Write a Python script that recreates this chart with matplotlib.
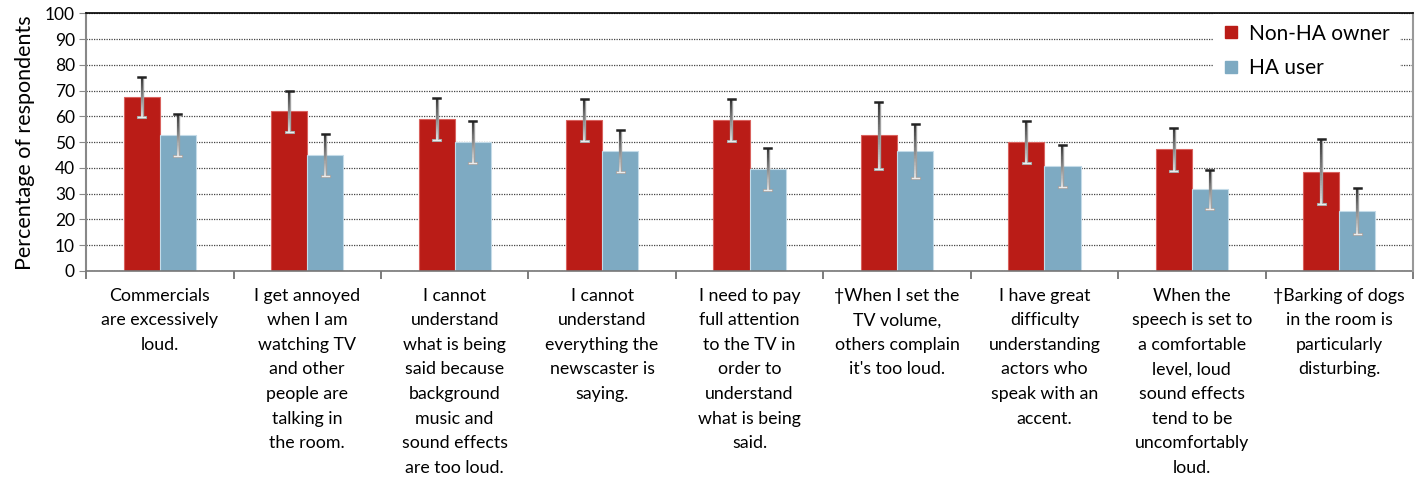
import numpy as np
import matplotlib.pyplot as plt
from matplotlib.collections import LineCollection
from matplotlib.lines import Line2D

plt.rcParams['font.family'] = ['Lato', 'DejaVu Sans']

labels = [
    'Commercials\nare excessively\nloud.',
    'I get annoyed\nwhen I am\nwatching TV\nand other\npeople are\ntalking in\nthe room.',
    'I cannot\nunderstand\nwhat is being\nsaid because\nbackground\nmusic and\nsound effects\nare too loud.',
    'I cannot\nunderstand\neverything the\nnewscaster is\nsaying.',
    'I need to pay\nfull attention\nto the TV in\norder to\nunderstand\nwhat is being\nsaid.',
    '\u2020When I set the\nTV volume,\nothers complain\nit\'s too loud.',
    'I have great\ndifficulty\nunderstanding\nactors who\nspeak with an\naccent.',
    'When the\nspeech is set to\na comfortable\nlevel, loud\nsound effects\ntend to be\nuncomfortably\nloud.',
    '\u2020Barking of dogs\nin the room is\nparticularly\ndisturbing.',
]
non_ha = [67.5, 62.0, 59.1, 58.5, 58.5, 52.7, 50.1, 47.2, 38.6]
non_ha_err = [7.8, 8.0, 8.1, 8.1, 8.1, 13.0, 8.2, 8.3, 12.7]
ha = [52.8, 45.0, 50.2, 46.6, 39.6, 46.6, 40.8, 31.7, 23.3]
ha_err = [8.2, 8.2, 8.2, 8.2, 8.1, 10.6, 8.2, 7.6, 9.0]

RED = '#ba1c17'
BLUE = '#7eaac2'

fig = plt.figure(figsize=(14.25, 4.82), dpi=100)
ax = fig.add_axes([0.0604, 0.4378, 0.9312, 0.5342])

x = np.arange(len(labels))
w = 0.245
ax.bar(x - w / 2, non_ha, w, color=RED, edgecolor='#d9625e', linewidth=0.8, zorder=2)
ax.bar(x + w / 2, ha, w, color=BLUE, edgecolor='#c4dbe8', linewidth=0.8, zorder=2)


def grad_errbar(xc, v, e):
    # error bar shaded from dark at the top to near white at the bottom
    lo, hi = v - e, v + e
    n = 40
    ys = np.linspace(hi, lo, n + 1)
    segs = [[(xc, ys[k]), (xc, ys[k + 1])] for k in range(n)]
    t = np.linspace(0, 1, n)
    cols = [(0.12 + 0.8 * s, 0.12 + 0.8 * s, 0.12 + 0.8 * s) for s in t]
    cw = 0.024
    ax.plot([xc, xc], [lo, hi], color='#a0a0a0', lw=2.4, zorder=3, solid_capstyle='butt')
    ax.plot([xc - cw, xc + cw], [lo, lo], color='#a0a0a0', lw=2.2, zorder=3)
    ax.add_collection(LineCollection(segs, colors=cols, linewidths=1.2, zorder=4))
    ax.plot([xc - cw, xc + cw], [hi, hi], color='#222222', lw=1.8, zorder=4)
    ax.plot([xc - cw, xc + cw], [lo, lo], color='#ececec', lw=1.0, zorder=4)


for i in range(len(labels)):
    grad_errbar(x[i] - w / 2, non_ha[i], non_ha_err[i])
    grad_errbar(x[i] + w / 2, ha[i], ha_err[i])

ax.set_xlim(-0.5, len(labels) - 0.5)
ax.set_ylim(0, 100)
ax.set_yticks(np.arange(0, 101, 10))
ax.tick_params(axis='y', labelsize=12.5, length=5, color='#888888', pad=3)
ax.yaxis.grid(True, linestyle=(0, (1, 1)), color='#444444', linewidth=0.9, zorder=0)
ax.set_axisbelow(True)

ax.set_xticks(np.arange(-0.5, len(labels)), [])
ax.tick_params(axis='x', which='major', direction='out', length=6, color='#666666', width=1.2)
ax.set_xticks(x, labels, minor=True)
ax.tick_params(axis='x', which='minor', length=0, pad=12, labelsize=12.8)
for lab in ax.get_xticklabels(minor=True):
    lab.set_linespacing(1.66)

ax.spines['top'].set_color('black')
ax.spines['top'].set_linewidth(1.2)
ax.spines['top'].set_zorder(6)
ax.spines['left'].set_color('#888888')
ax.spines['left'].set_linewidth(1.5)
ax.spines['right'].set_color('#999999')
ax.spines['right'].set_linewidth(1.5)
ax.spines['right'].set_zorder(6)
ax.spines['bottom'].set_color('#777777')
ax.spines['bottom'].set_linewidth(1.2)

ax.set_ylabel('Percentage of respondents', fontsize=15.5, labelpad=7)

handles = [
    Line2D([], [], marker='s', linestyle='none', markersize=9, markerfacecolor=RED, markeredgecolor=RED),
    Line2D([], [], marker='s', linestyle='none', markersize=9, markerfacecolor=BLUE, markeredgecolor=BLUE),
]
leg = ax.legend(handles, ['Non-HA owner', 'HA user'], loc='upper right', fontsize=15,
                frameon=True, fancybox=False, framealpha=1, edgecolor='white',
                handlelength=0.7, handletextpad=0.5, labelspacing=0.7,
                borderpad=0.45, bbox_to_anchor=(0.997, 1.038))
leg.set_zorder(5)

fig.savefig('out.png', dpi=100)
